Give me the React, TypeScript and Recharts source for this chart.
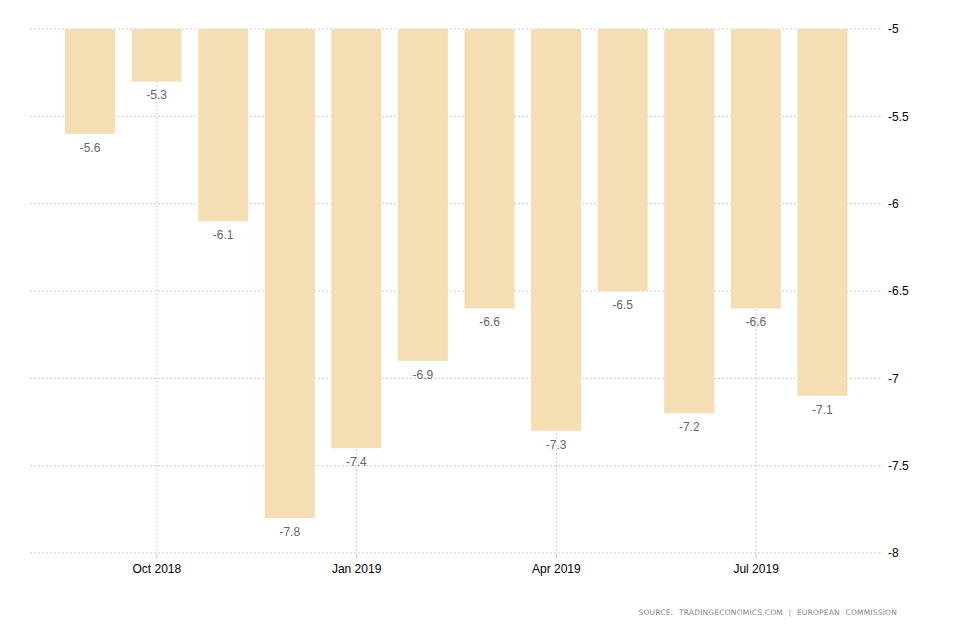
import React from 'react';
import { BarChart, Bar, XAxis, YAxis, CartesianGrid, LabelList } from 'recharts';

const categories = ['Sep 2018', 'Oct 2018', 'Nov 2018', 'Dec 2018', 'Jan 2019', 'Feb 2019', 'Mar 2019', 'Apr 2019', 'May 2019', 'Jun 2019', 'Jul 2019', 'Aug 2019'];
const values = [-5.6, -5.3, -6.1, -7.8, -7.4, -6.9, -6.6, -7.3, -6.5, -7.2, -6.6, -7.1];
const xTicks = ['Oct 2018', 'Jan 2019', 'Apr 2019', 'Jul 2019'];
const yTicks = [-5, -5.5, -6, -6.5, -7, -7.5, -8];
const sourceText = 'SOURCE: TRADINGECONOMICS.COM | EUROPEAN COMMISSION';

const data = categories.map((c, i) => ({ month: c, value: values[i] }));

const FONT = '"Liberation Sans", Arial, sans-serif';
const PAD = 27;

const ValueLabel = (props: any) => {
  const { x, y, width, height, value } = props;
  const bottom = Math.max(Number(y), Number(y) + Number(height));
  return (
    <text
      x={Number(x) + Number(width) / 2}
      y={bottom + 14}
      textAnchor="middle"
      dominantBaseline="central"
      fill="#666"
      fontSize={12}
      fontFamily={FONT}
    >
      {value}
    </text>
  );
};

const verticalGen = (props: any) => {
  const { xAxis, offset } = props;
  try {
    const scale = xAxis && xAxis.scale;
    if (scale && typeof scale.bandwidth === 'function') {
      const bw = scale.bandwidth();
      const res = xTicks.map((t) => Number(scale(t)) + bw / 2);
      if (res.every((v) => Number.isFinite(v))) return res;
    }
  } catch (e) {
    // fall through
  }
  const inner = offset.width - PAD * 2;
  const band = inner / categories.length;
  return xTicks.map((t) => offset.left + PAD + (categories.indexOf(t) + 0.5) * band);
};

export default function App() {
  return (
    <div style={{ position: 'relative', width: 946, height: 628 }}>
      <BarChart
        width={946}
        height={628}
        data={data}
        margin={{ top: 21, right: 11, bottom: 53, left: 22 }}
      >
        <CartesianGrid stroke="#ccc" strokeDasharray="2 2" verticalCoordinatesGenerator={verticalGen} />
        <XAxis
          dataKey="month"
          ticks={xTicks}
          axisLine={false}
          tickLine={{ stroke: '#ccc' }}
          tickSize={6}
          tickMargin={5}
          height={30}
          padding={{ left: PAD, right: PAD }}
          tick={{ fill: '#000', fontSize: 12, fontFamily: FONT }}
        />
        <YAxis
          orientation="right"
          domain={[-8, -5]}
          ticks={yTicks}
          axisLine={false}
          tickLine={false}
          tickSize={0}
          tickMargin={5}
          width={60}
          tick={{ fill: '#000', fontSize: 12, fontFamily: FONT, textAnchor: 'start' }}
        />
        <Bar dataKey="value" fill="#F5DEB3" barSize={50} isAnimationActive={false}>
          <LabelList dataKey="value" content={ValueLabel} />
        </Bar>
      </BarChart>
      <div
        style={{
          position: 'absolute',
          right: 946 - 889,
          top: 600,
          fontFamily: '"DejaVu Sans", Verdana, sans-serif',
          fontSize: 7.5,
          letterSpacing: 0.2,
          wordSpacing: 3,
          color: '#888',
          whiteSpace: 'pre',
        }}
      >
        {sourceText}
      </div>
    </div>
  );
}
